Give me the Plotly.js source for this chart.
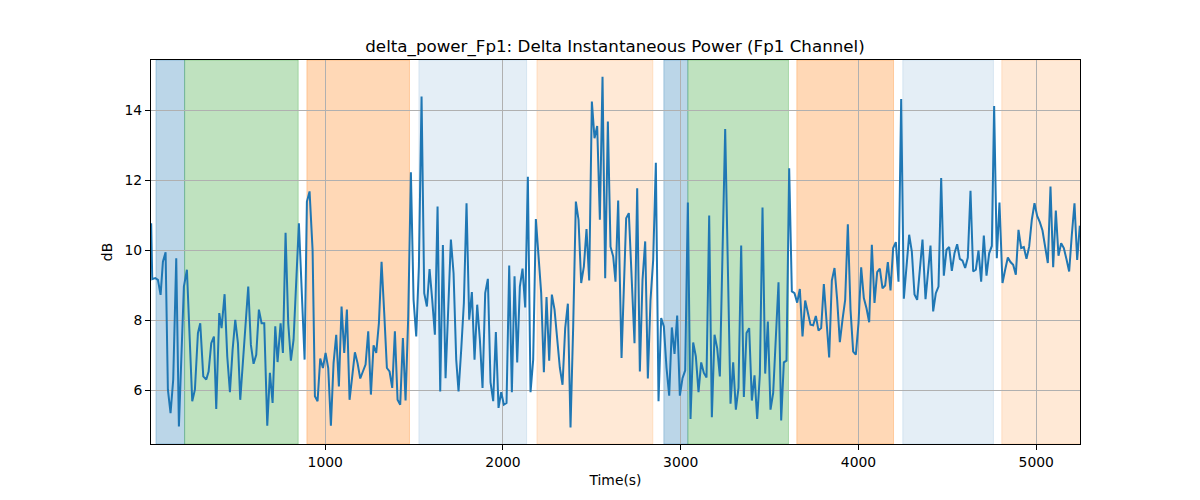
<!DOCTYPE html>
<html>
<head>
<meta charset="utf-8">
<script src="https://cdn.plot.ly/plotly-3.0.1.min.js"></script>
<style>html,body{margin:0;padding:0;background:#fff;}#chart{width:1200px;height:500px;}</style>
</head>
<body>
<div id="chart"></div>
<script>
// Time stamps (s) and delta power (dB)
const time_s = [
21,27,44,59,74,87,102,115,130,145,162,177,205,222,252,267,284,297,314,331,344,359,374,387,404,417,434,449,464,479,494,509,522,539,567,582,597,612,627,642,657,674,689,704,719,732,749,762,777,792,807,822,852,
884,897,912,929,942,957,972,987,1002,1017,1032,1047,1062,1077,1092,1107,1122,1137,1152,1167,1182,1197,1212,1227,1242,1257,1272,1287,1302,1317,1332,1347,1362,1377,1392,1407,1422,1437,1452,1467,1482,1497,1512,1527,1542,1557,1572,1587,1602,1617,1632,1647,1662,1677,1707,1722,1737,1750,
1765,1780,1795,1810,1825,1840,1855,1870,1885,1900,1915,1930,1945,1960,1975,1990,2005,2020,2035,2050,2065,2080,2095,2110,2125,2140,2155,2170,2185,2200,2215,2230,2245,2260,2275,2290,2305,2320,2335,2350,2365,2380,2395,2410,2425,2440,2455,2470,2485,2500,2515,2530,2545,2560,2575,2590,2605,2620,
2633,2648,2667,2693,2708,2740,2755,2770,2785,2800,2815,2830,2845,2860,2875,2890,2905,2920,2935,2950,2965,2980,2995,3010,3025,3040,3055,3070,3085,3100,3115,3130,3145,3160,3175,3190,3205,3220,3250,3280,3295,3310,3325,3340,3355,3370,3385,3400,3415,3430,3445,3460,3475,3490,
3505,3520,3550,3565,3580,3595,3610,3625,3640,3655,3670,3685,3700,3715,3730,3745,3760,3775,3790,3805,3835,3850,3865,3880,3895,3910,3925,3940,3955,3970,3985,4000,4015,4030,4045,4060,4075,4090,4105,4120,4135,4150,4165,4180,4195,4210,4225,4240,4255,4285,4300,4315,4330,4360,
4377,4405,4420,4435,4450,4465,4480,4495,4510,4525,4540,4555,4570,4585,4600,4615,4630,4645,4660,4675,4690,4705,4720,4735,4750,4763,4778,4793,4810,4825,4840,4855,4870,4885,4900,4915,4930,4945,4960,4975,4990,5005,5020,5035,5065,5080,5095,5110,5125,5140,5155,5170,5185,5200,5215,5230,5245
];
const delta_db = [
10.77,9.17,9.2,9.15,8.72,9.67,9.94,6.01,5.34,6.3,9.77,4.96,8.96,9.44,5.68,6.01,7.63,7.91,6.39,6.3,6.53,7.34,7.53,5.46,8.2,7.77,8.74,6.96,5.94,7.15,8.01,7.34,5.72,6.87,8.96,7.29,6.75,7.01,8.3,7.91,7.91,4.98,6.49,5.63,7.82,6.8,7.91,7.06,10.5,7.91,6.84,7.44,10.77,
6.87,11.39,11.68,10.0,5.82,5.68,6.9,6.63,7.06,6.63,4.98,6.77,7.58,6.1,8.39,7.06,8.3,5.72,6.39,7.08,6.77,6.33,6.53,6.73,7.68,5.87,7.28,7.06,7.91,9.67,8.2,6.63,6.53,6.06,7.68,5.72,5.58,7.49,5.7,8.1,12.23,8.58,7.53,9.53,14.39,8.77,8.39,9.46,8.58,7.58,11.25,5.96,10.15,6.34,10.3,9.34,6.87,5.96,
7.15,8.49,11.34,8.01,8.8,6.87,8.44,7.44,6.06,8.77,9.18,6.22,5.68,7.66,5.49,5.94,5.58,5.63,9.56,5.94,9.25,6.79,8.96,9.47,8.36,12.1,5.94,6.87,10.89,9.92,8.77,6.51,8.66,6.84,8.73,8.3,7.34,6.63,6.15,7.77,8.47,4.93,7.82,11.39,10.87,9.06,9.53,10.6,9.13,14.25,13.2,13.55,10.87,14.96,9.2,13.68,10.1,9.82,
9.1,11.42,6.92,10.91,11.06,7.34,11.77,6.53,9.15,10.25,6.33,8.58,9.72,12.5,5.68,8.06,7.82,6.63,5.84,7.79,7.03,8.13,5.84,6.34,6.56,11.36,5.17,7.36,6.96,5.94,6.79,6.49,6.36,10.99,5.22,7.58,7.2,6.39,13.46,5.61,6.79,5.44,6.06,10.13,5.8,7.63,7.77,5.7,6.42,5.17,6.44,11.22,6.47,7.96,
5.44,5.92,9.08,5.13,6.79,6.84,12.34,8.82,8.77,8.5,8.89,7.53,8.56,8.2,7.87,7.85,8.12,7.7,7.77,9.03,6.93,9.13,9.49,8.58,7.37,8.01,8.58,10.74,8.3,7.1,7.01,7.91,9.51,8.63,8.34,7.94,10.15,8.49,9.37,9.47,8.91,8.99,9.66,8.85,10.06,10.23,9.1,14.32,8.61,10.44,9.96,8.73,8.58,10.3,
8.6,10.13,8.25,8.77,8.96,12.06,9.27,10.01,10.09,9.41,9.91,10.17,9.75,9.7,9.49,9.79,11.7,9.39,9.44,9.99,9.1,10.42,9.27,9.91,10.12,14.12,9.77,11.36,9.06,9.44,9.79,9.66,9.58,9.3,10.58,10.06,10.09,9.75,10.1,10.87,11.34,10.98,10.8,10.56,9.63,11.82,9.51,11.13,9.84,10.2,10.06,9.74,9.39,10.44,11.34,9.72,10.7
];
// Shaded stage segments (start s, end s, kind)
const seg_start = [48, 209, 897, 1527, 2191, 2905, 3040, 3653, 4249, 4806];
const seg_end   = [209, 848, 1474, 2133, 2843, 3040, 3606, 4197, 4759, 5300];
const seg_kind  = ['blue','green','orange','lightblue','lightorange','blue','green','orange','lightblue','lightorange'];
const x_ticks = [1000, 2000, 3000, 4000, 5000];
const y_ticks = [6, 8, 10, 12, 14];

const kindColor = {
  blue: 'rgba(31,119,180,0.3)',
  green: 'rgba(44,160,44,0.3)',
  orange: 'rgba(255,127,14,0.3)',
  lightblue: 'rgba(31,119,180,0.12)',
  lightorange: 'rgba(255,127,14,0.17)'
};

const shapes = seg_start.map((s, i) => ({
  type: 'rect', xref: 'x', yref: 'paper', x0: s, x1: seg_end[i], y0: 0, y1: 1,
  fillcolor: kindColor[seg_kind[i]], line: {width: 1, color: kindColor[seg_kind[i]]}, layer: 'below'
}));

const font = 'DejaVu Sans, sans-serif';
const trace = {
  x: time_s, y: delta_db, type: 'scatter', mode: 'lines',
  line: {color: '#1f77b4', width: 2}, hoverinfo: 'skip'
};
const layout = {
  width: 1200, height: 500,
  margin: {l: 151, r: 120, t: 60, b: 56},
  paper_bgcolor: '#fff', plot_bgcolor: 'rgba(0,0,0,0)',
  showlegend: false,
  font: {family: font, color: '#000', size: 13.9},
  title: {text: 'delta_power_Fp1: Delta Instantaneous Power (Fp1 Channel)', font: {family: font, size: 16.7, color: '#000'},
          x: 0.5125, xref: 'container', xanchor: 'center', y: 0.908, yref: 'container', yanchor: 'middle'},
  xaxis: {
    range: [20, 5246], tickvals: x_ticks, ticktext: x_ticks.map(String),
    showgrid: true, gridcolor: '#b0b0b0', gridwidth: 1,
    showline: true, linecolor: '#000', linewidth: 1, mirror: true,
    ticks: 'outside', ticklen: 5, tickcolor: '#000', tickwidth: 1,
    zeroline: false,
    title: {text: 'Time(s)', font: {family: font, size: 13.9, color: '#000'}, standoff: 6}
  },
  yaxis: {
    range: [4.457, 15.437], tickvals: y_ticks, ticktext: y_ticks.map(String),
    showgrid: true, gridcolor: '#b0b0b0', gridwidth: 1,
    showline: true, linecolor: '#000', linewidth: 1, mirror: true,
    ticks: 'outside', ticklen: 5, tickcolor: '#000', tickwidth: 1,
    zeroline: false,
    title: {text: 'dB', font: {family: font, size: 13.9, color: '#000'}, standoff: 8}
  },
  shapes: shapes
};
Plotly.newPlot('chart', [trace], layout, {displayModeBar: false, staticPlot: true});
</script>
</body>
</html>
